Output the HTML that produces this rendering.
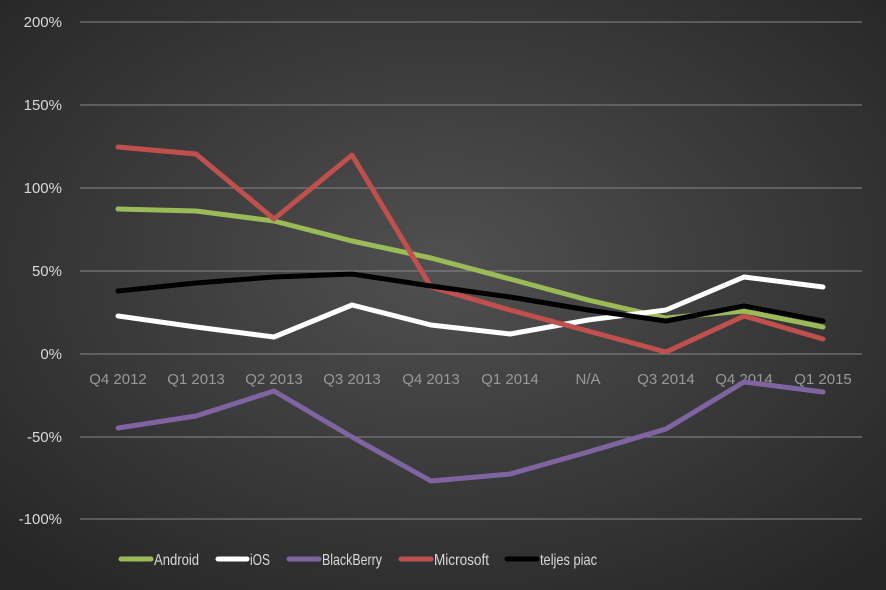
<!DOCTYPE html><html><head><style>body{margin:0}svg{display:block}</style></head><body>
<svg width="886" height="590" xmlns="http://www.w3.org/2000/svg" font-family="Liberation Sans, sans-serif">
<defs><radialGradient id="g" cx="50%" cy="45%" r="70%"><stop offset="0" stop-color="#505050"/><stop offset="1" stop-color="#262626"/></radialGradient></defs>
<rect width="886" height="590" fill="url(#g)"/>
<g stroke="#888" stroke-width="1">
<line x1="80" x2="862" y1="22" y2="22"/><line x1="80" x2="862" y1="105" y2="105"/><line x1="80" x2="862" y1="188" y2="188"/><line x1="80" x2="862" y1="271" y2="271"/><line x1="80" x2="862" y1="354" y2="354"/><line x1="80" x2="862" y1="437" y2="437"/><line x1="80" x2="862" y1="519" y2="519"/></g>
<g fill="#d9d9d9" font-size="15" text-anchor="end">
<text x="62" y="27">200%</text><text x="62" y="110">150%</text><text x="62" y="193">100%</text><text x="62" y="276">50%</text><text x="62" y="359">0%</text><text x="62" y="442">-50%</text><text x="62" y="524">-100%</text></g>
<g fill="#999" font-size="15" text-anchor="middle">
<text x="118" y="384">Q4 2012</text><text x="196" y="384">Q1 2013</text><text x="274" y="384">Q2 2013</text><text x="352" y="384">Q3 2013</text><text x="431" y="384">Q4 2013</text><text x="510" y="384">Q1 2014</text><text x="588" y="384">N/A</text><text x="666" y="384">Q3 2014</text><text x="744" y="384">Q4 2014</text><text x="823" y="384">Q1 2015</text></g>
<g fill="none" stroke-width="5" stroke-linejoin="round" stroke-linecap="round">
<polyline stroke="#9bbb59" points="118,209 196,211 274,221 352,241 431,258 510,279 588,300 666,318 744,311 823,327"/>
<polyline stroke="#fff" points="118,316 196,327 274,337 352,305 431,325 510,334 588,320 666,310 744,277 823,287"/>
<polyline stroke="#8064a2" points="118,428 196,416 274,391 352,437 431,481 510,474 588,452 666,429 744,382 823,392"/>
<polyline stroke="#c0504d" points="118,147 196,154 274,219 352,155 431,287 510,310 588,331 666,352 744,316 823,339"/>
<polyline stroke="#000" points="118,291 196,283 274,277 352,274 431,286 510,297 588,310 666,321 744,306 823,321"/>
</g>
<g stroke-width="5" stroke-linecap="round">
<line x1="121" x2="151" y1="559" y2="559" stroke="#9bbb59"/><line x1="218" x2="247" y1="559" y2="559" stroke="#fff"/><line x1="289" x2="319" y1="559" y2="559" stroke="#8064a2"/><line x1="401" x2="431" y1="559" y2="559" stroke="#c0504d"/><line x1="507" x2="537" y1="559" y2="559" stroke="#000"/></g>
<g fill="#d9d9d9" font-size="16">
<text x="154" y="565" textLength="45" lengthAdjust="spacingAndGlyphs">Android</text><text x="250" y="565" textLength="20" lengthAdjust="spacingAndGlyphs">iOS</text><text x="322" y="565" textLength="60" lengthAdjust="spacingAndGlyphs">BlackBerry</text><text x="434" y="565" textLength="55" lengthAdjust="spacingAndGlyphs">Microsoft</text><text x="540" y="565" textLength="57" lengthAdjust="spacingAndGlyphs">teljes piac</text></g>
</svg></body></html>
